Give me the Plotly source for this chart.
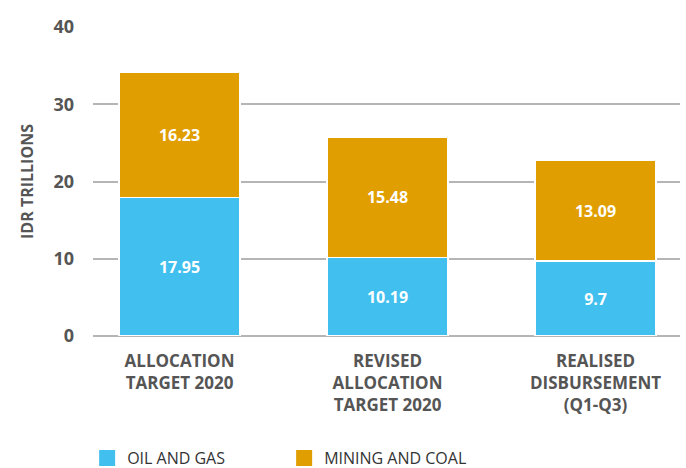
import plotly.graph_objects as go

categories = ["ALLOCATION<br>TARGET 2020", "REVISED<br>ALLOCATION<br>TARGET 2020", "REALISED<br>DISBURSEMENT<br>(Q1-Q3)"]
oil_gas = [17.95, 10.19, 9.7]
mining_coal = [16.23, 15.48, 13.09]
series_names = ["OIL AND GAS", "MINING AND COAL"]
y_ticks = [0, 10, 20, 30, 40]

BLUE = "#41BFEE"
ORANGE = "#E09E00"
GREY_TEXT = "#555555"
FONT = "Open Sans"

fig = go.Figure()
for name, vals, col in [(series_names[0], oil_gas, BLUE), (series_names[1], mining_coal, ORANGE)]:
    fig.add_trace(go.Bar(
        x=categories, y=vals, name=name, legendgroup=name, showlegend=False,
        marker=dict(color=col, line=dict(color="white", width=1.5)),
        text=[f"{v:g}" for v in vals],
        textposition="inside", insidetextanchor="middle",
        textfont=dict(color="white", size=16, family=FONT, weight="bold"),
        width=0.58,
    ))
    # legend entry with a larger square swatch, grouped with its bar series
    fig.add_trace(go.Scatter(
        x=[None], y=[None], mode="markers", name=name, legendgroup=name,
        marker=dict(symbol="square", size=16, color=col),
        showlegend=True, hoverinfo="skip",
    ))

fig.update_layout(
    barmode="stack",
    width=686, height=468,
    margin=dict(l=93, r=6, t=27, b=132, autoexpand=False),
    paper_bgcolor="white", plot_bgcolor="white",
    font=dict(family=FONT, color=GREY_TEXT),
    uniformtext=dict(minsize=16, mode="show"),
    legend=dict(
        orientation="h", x=-0.01, xanchor="left", y=-0.34, yanchor="top",
        font=dict(size=16, color="#333333", family=FONT),
        entrywidth=152, entrywidthmode="pixels",
        itemsizing="trace",
        traceorder="normal",
    ),
    showlegend=True,
)
fig.update_xaxes(
    range=[-0.416, 2.406],
    tickfont=dict(size=17, color=GREY_TEXT, family=FONT, weight="bold"),
    showgrid=False, showline=False, ticks="",
    ticklabelstandoff=13,
)
fig.update_yaxes(
    range=[0, 40], tickvals=y_ticks,
    showgrid=True, gridcolor="#B5B5B5", gridwidth=1.5,
    zeroline=True, zerolinecolor="#B5B5B5", zerolinewidth=1.5,
    tickfont=dict(size=18, color=GREY_TEXT, family=FONT, weight="bold"),
    ticklabelstandoff=18,
    title=dict(text="IDR TRILLIONS", font=dict(size=16, color=GREY_TEXT, family=FONT, weight="bold"), standoff=15),
)

fig.write_html("out.html", config={"displayModeBar": False})
with open("out.html", "r", encoding="utf-8") as f:
    html = f.read()
html = html.replace("<head>", "<head><style>html,body{margin:0;padding:0;overflow:hidden;}</style>", 1)
with open("out.html", "w", encoding="utf-8") as f:
    f.write(html)
